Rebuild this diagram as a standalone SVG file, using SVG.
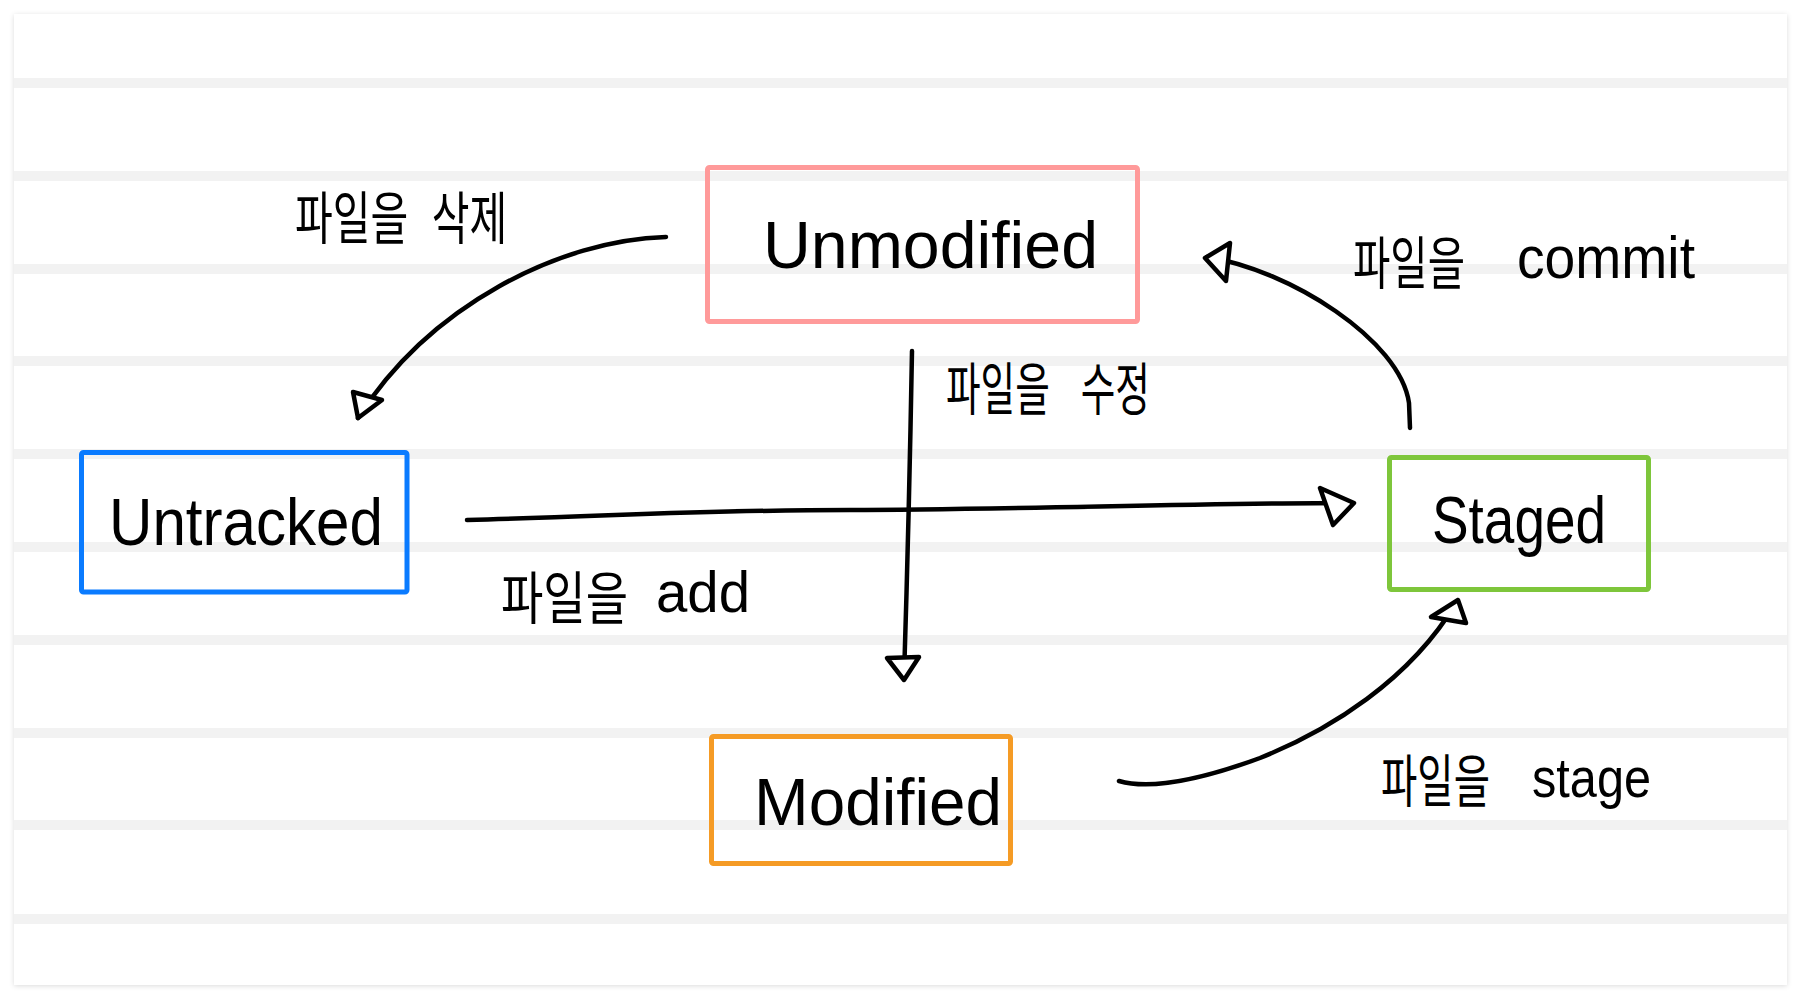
<svg xmlns="http://www.w3.org/2000/svg" width="1802" height="1000" viewBox="0 0 1802 1000">
  <defs>
    <filter id="shadow" x="-5%" y="-5%" width="110%" height="110%">
      <feDropShadow dx="0" dy="1" stdDeviation="2.5" flood-color="#000000" flood-opacity="0.14"/>
    </filter>
  </defs>
  <style>
    .stripe { fill: #f2f2f2; }
    .box { fill: none; stroke-width: 5; }
    .node-text { font-family: "Liberation Sans", Arial, sans-serif; font-size: 66px; fill: #000000; }
    .ko { font-family: "Noto Sans CJK KR", "Noto Sans", sans-serif; font-size: 57px; fill: #000000; }
    .en { font-family: "Liberation Sans", Arial, sans-serif; fill: #000000; }
    .wire { fill: none; stroke: #000000; stroke-width: 4.5; stroke-linecap: round; stroke-linejoin: round; }
    .head { fill: #ffffff; stroke: #000000; stroke-width: 4.5; stroke-linejoin: round; }
  </style>

  <rect x="0" y="0" width="1802" height="1000" fill="#ffffff"/>

  <g id="card">
    <rect x="14" y="14" width="1773" height="971" fill="#ffffff" filter="url(#shadow)"/>
    <rect class="stripe" x="14" y="78" width="1773" height="10"/>
    <rect class="stripe" x="14" y="171" width="1773" height="10"/>
    <rect class="stripe" x="14" y="264" width="1773" height="10"/>
    <rect class="stripe" x="14" y="356" width="1773" height="10"/>
    <rect class="stripe" x="14" y="449" width="1773" height="10"/>
    <rect class="stripe" x="14" y="542" width="1773" height="10"/>
    <rect class="stripe" x="14" y="635" width="1773" height="10"/>
    <rect class="stripe" x="14" y="728" width="1773" height="10"/>
    <rect class="stripe" x="14" y="820" width="1773" height="10"/>
    <rect class="stripe" x="14" y="914" width="1773" height="10"/>
  </g>

  <g id="connectors">
    <g id="edge-delete">
      <path class="wire" d="M666,237 C560,240 430,305 358,418"/>
      <polygon class="head" points="358,418 353,392 382,400"/>
    </g>
    <g id="edge-modify">
      <path class="wire" d="M912,351 Q909,520 904,678"/>
      <polygon class="head" points="887,658 919,657 904,680"/>
    </g>
    <g id="edge-add">
      <path class="wire" d="M467,520 C620,516 700,510 850,510 S1200,503 1352,503"/>
      <polygon class="head" points="1320,488 1354,503 1333,525"/>
    </g>
    <g id="edge-commit">
      <path class="wire" d="M1410,428 L1409,403 C1400,340 1290,270 1207,257"/>
      <polygon class="head" points="1205,258 1230,243 1226,281"/>
    </g>
    <g id="edge-stage">
      <path class="wire" d="M1119,781 C1150,790 1200,780 1260,758 C1330,730 1410,680 1456,603"/>
      <polygon class="head" points="1458,600 1431,617 1466,623"/>
    </g>
  </g>

  <g id="labels">
    <text id="label-delete" class="ko" transform="translate(295,239) scale(0.72,1)"><tspan x="0">파일을</tspan> <tspan x="190">삭제</tspan></text>
    <text id="label-modify" class="ko" transform="translate(946,410) scale(0.66,1)"><tspan x="0">파일을</tspan> <tspan x="204">수정</tspan></text>
    <text id="label-add" y="619"><tspan class="ko" x="501" textLength="127" lengthAdjust="spacingAndGlyphs">파일을</tspan> <tspan class="en" x="656" y="612" font-size="58" textLength="94" lengthAdjust="spacingAndGlyphs">add</tspan></text>
    <text id="label-commit" y="284"><tspan class="ko" x="1353" textLength="112" lengthAdjust="spacingAndGlyphs">파일을</tspan> <tspan class="en" x="1517" y="278" font-size="60" textLength="178" lengthAdjust="spacingAndGlyphs">commit</tspan></text>
    <text id="label-stage" y="802"><tspan class="ko" x="1381" textLength="109" lengthAdjust="spacingAndGlyphs">파일을</tspan> <tspan class="en" x="1532" y="797" font-size="56" textLength="119" lengthAdjust="spacingAndGlyphs">stage</tspan></text>
  </g>

  <g id="node-unmodified">
    <rect class="box" x="707.5" y="167.5" width="430" height="154" rx="2" stroke="#ff9a9a"/>
    <text class="node-text" x="763" y="268" textLength="335" lengthAdjust="spacingAndGlyphs">Unmodified</text>
  </g>
  <g id="node-untracked">
    <rect class="box" x="81.5" y="452.5" width="325.5" height="139.5" rx="2" stroke="#0a7bff"/>
    <text class="node-text" x="109" y="545" font-size="70" textLength="274" lengthAdjust="spacingAndGlyphs">Untracked</text>
  </g>
  <g id="node-staged">
    <rect class="box" x="1389.5" y="457.5" width="259" height="132" rx="2" stroke="#7ec63b"/>
    <text class="node-text" x="1432" y="543" font-size="70" textLength="174" lengthAdjust="spacingAndGlyphs">Staged</text>
  </g>
  <g id="node-modified">
    <rect class="box" x="711.5" y="736.5" width="299" height="127" rx="2" stroke="#f59b25"/>
    <text class="node-text" x="754" y="825" font-size="64" textLength="248" lengthAdjust="spacingAndGlyphs">Modified</text>
  </g>
</svg>
